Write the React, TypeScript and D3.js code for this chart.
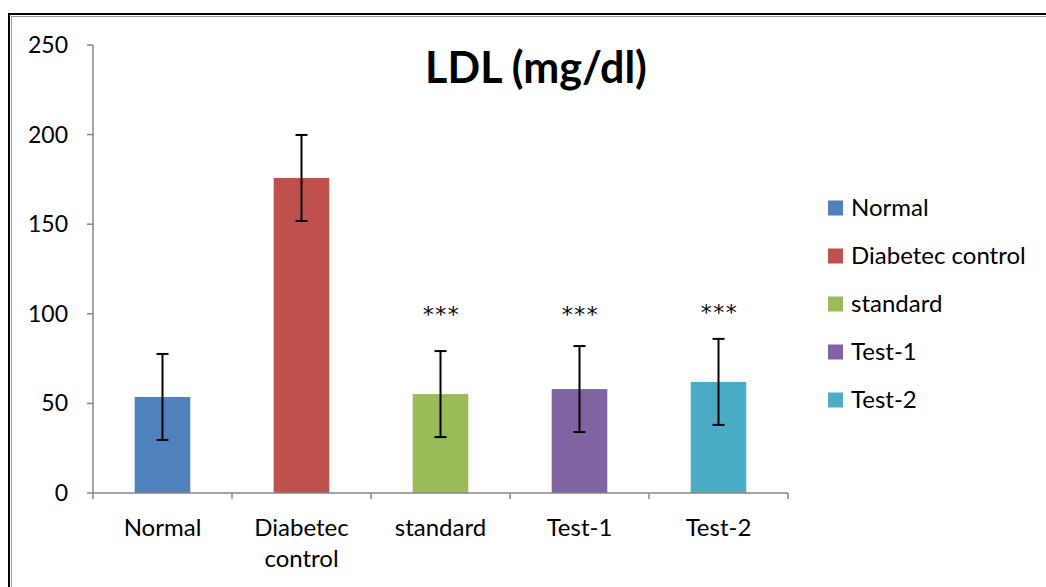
import React from 'react';
import * as d3 from 'd3';

const categories = ['Normal', 'Diabetec control', 'standard', 'Test-1', 'Test-2'];
const axisLabels = [['Normal'], ['Diabetec', 'control'], ['standard'], ['Test-1'], ['Test-2']];
const means = [53.6, 175.8, 55.2, 58.0, 62.0];
const errors = [24, 24, 24, 24, 24];
const colors = ['#4F81BD', '#C0504D', '#9BBB59', '#8064A2', '#4BACC6'];
const yTicks = [0, 50, 100, 150, 200, 250];
// significance marks, centred at a value height above each bar
const stars = ['', '', '***', '***', '***'];
const starLevels = [0, 0, 102.4, 102.4, 103.5];

const W = 1046;
const H = 587;
const font = 'Lato, "Open Sans", sans-serif';

const App: React.FC = () => {
  const x = d3.scaleBand<string>()
    .domain(categories)
    .range([93, 788])
    .paddingInner(0.6)
    .paddingOuter(0.3);
  const y = d3.scaleLinear().domain([0, 250]).range([493, 45]);
  const gap = (x.step() - x.bandwidth()) / 2;
  const boundaries = categories.map(c => (x(c) as number) - gap).concat([788]);
  const mid = (c: string) => (x(c) as number) + x.bandwidth() / 2;

  return (
    <svg width={W} height={H} style={{ position: 'absolute', left: 0, top: 0, background: '#fff' }}>
      {/* outer frame */}
      <rect x={9} y={14} width={W + 20} height={H + 20} fill="none" stroke="#000" strokeWidth={2} />
      <rect x={11.5} y={16.5} width={W + 20} height={H + 20} fill="none" stroke="#999" strokeWidth={1} />

      {/* title */}
      <text x={536} y={83} textAnchor="middle" fontFamily={font} fontWeight="bold" fontSize={43} fill="#000">
        LDL (mg/dl)
      </text>

      {/* y axis */}
      <line x1={93} x2={93} y1={y(250)} y2={y(0)} stroke="#868686" strokeWidth={1.5} />
      {yTicks.map(t => (
        <g key={t}>
          <line x1={87} x2={93} y1={y(t)} y2={y(t)} stroke="#868686" strokeWidth={1.5} />
          <text x={68} y={y(t)} dy="0.35em" textAnchor="end" fontFamily={font} fontSize={23} fill="#000">
            {t}
          </text>
        </g>
      ))}

      {/* bars */}
      {categories.map((c, i) => (
        <rect key={c} x={x(c)} y={y(means[i])} width={x.bandwidth()} height={y(0) - y(means[i])} fill={colors[i]} />
      ))}

      {/* x axis */}
      <line x1={93} x2={788} y1={y(0)} y2={y(0)} stroke="#868686" strokeWidth={1.5} />
      {boundaries.map((b, i) => (
        <line key={i} x1={b} x2={b} y1={y(0)} y2={y(0) + 6} stroke="#868686" strokeWidth={1.5} />
      ))}
      {categories.map((c, i) => (
        <text key={c} x={mid(c)} y={536} textAnchor="middle" fontFamily={font} fontSize={24} fill="#000">
          {axisLabels[i].map((l, j) => (
            <tspan key={j} x={mid(c)} dy={j === 0 ? 0 : 31}>{l}</tspan>
          ))}
        </text>
      ))}

      {/* error bars */}
      {categories.map((c, i) => {
        const cx = mid(c);
        const top = y(means[i] + errors[i]);
        const bot = y(means[i] - errors[i]);
        return (
          <g key={c} stroke="#000" strokeWidth={2}>
            <line x1={cx} x2={cx} y1={top} y2={bot} />
            <line x1={cx - 6} x2={cx + 6} y1={top} y2={top} />
            <line x1={cx - 6} x2={cx + 6} y1={bot} y2={bot} />
          </g>
        );
      })}

      {/* significance stars */}
      {categories.map((c, i) => stars[i] ? (
        <text key={c} x={mid(c) + 1} y={y(starLevels[i])} dy="0.56em" textAnchor="middle"
          fontFamily='"DejaVu Sans", sans-serif' fontSize={22} letterSpacing={1.5} fill="#000">
          {stars[i]}
        </text>
      ) : null)}

      {/* legend */}
      {categories.map((c, i) => (
        <g key={c} transform={`translate(828, ${208 + i * 48})`}>
          <rect x={0} y={-7.5} width={15} height={15} fill={colors[i]} />
          <text x={23} y={0} dy="0.35em" fontFamily={font} fontSize={24} fill="#000">{c}</text>
        </g>
      ))}
    </svg>
  );
};

export default App;
